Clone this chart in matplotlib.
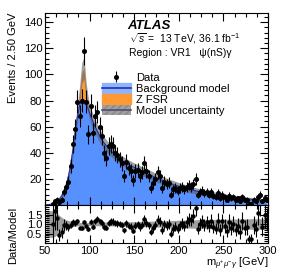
import numpy as np
import matplotlib.pyplot as plt
from matplotlib.ticker import MultipleLocator
from matplotlib.lines import Line2D
from matplotlib.patches import Patch

plt.rcParams['font.family'] = ['Liberation Sans', 'DejaVu Sans']
plt.rcParams['mathtext.fontset'] = 'custom'
plt.rcParams['mathtext.rm'] = 'Liberation Sans'
plt.rcParams['mathtext.it'] = 'Liberation Sans:italic'
plt.rcParams['font.size'] = 8

# bins: 2.5 GeV from 50 to 300
edges = np.arange(50, 300.01, 2.5)
centers = edges[:-1] + 1.25

# background model (events / bin)
bkg = [0.2, 0.3, 0.5, 1.0, 1.8, 3.0, 4.5, 7.0, 10.5, 15.0,
       22.0, 31.0, 42.0, 55.0, 67.0, 76.0, 81.0, 80.0, 77.0, 73.0,
       68.0, 64.0, 60.0, 56.5, 53.0, 50.0, 47.5, 45.5, 43.5, 41.5,
       40.0, 38.5, 37.0, 35.5, 34.2, 33.0, 32.0, 31.0, 30.0, 29.2,
       28.4, 27.6, 26.8, 26.0, 25.2, 24.4, 23.6, 22.8, 22.0, 21.2,
       20.4, 19.7, 19.0, 18.3, 17.6, 17.0, 16.4, 15.8, 15.2, 14.6,
       14.1, 13.6, 13.1, 12.6, 12.1, 11.7, 11.3, 10.9, 10.5, 10.1,
       9.7, 9.4, 9.1, 8.8, 8.5, 8.2, 7.9, 7.6, 7.3, 7.0,
       6.8, 6.6, 6.4, 6.2, 6.0, 5.8, 5.6, 5.4, 5.2, 5.0,
       4.8, 4.6, 4.4, 4.2, 4.0, 3.8, 3.6, 3.5, 3.4, 3.3]

# Z FSR component
zfsr = [0] * 13 + [0.5, 2.0, 8.0, 20.0, 25.0, 9.0, 2.0] + [0] * 80

# relative model uncertainty
rel_unc = [0.70, 0.70, 0.70, 0.70, 0.65, 0.55, 0.45, 0.35, 0.28, 0.22,
           0.18, 0.15, 0.13, 0.12, 0.10, 0.08, 0.08, 0.08, 0.08, 0.08,
           0.09, 0.09, 0.09, 0.09, 0.10, 0.10, 0.10, 0.10, 0.10, 0.10,
           0.10, 0.10, 0.10, 0.10, 0.10, 0.11, 0.11, 0.11, 0.12, 0.12,
           0.12, 0.13, 0.13, 0.13, 0.14, 0.14, 0.14, 0.15, 0.15, 0.15,
           0.16, 0.16, 0.17, 0.17, 0.17, 0.18, 0.18, 0.19, 0.19, 0.20,
           0.20, 0.20, 0.21, 0.21, 0.21, 0.22, 0.22, 0.22, 0.23, 0.23,
           0.23, 0.23, 0.24, 0.24, 0.24, 0.24, 0.25, 0.25, 0.25, 0.25,
           0.25, 0.25, 0.26, 0.26, 0.26, 0.26, 0.26, 0.27, 0.27, 0.27,
           0.27, 0.27, 0.28, 0.28, 0.28, 0.28, 0.28, 0.28, 0.28, 0.28]

# observed data
data = [0, 0, 0, 1, 3, 4, 2, 4, 10, 14,
        18, 30, 47, 58, 79, 68, 80, 118, 79, 54,
        76, 55, 68, 71, 60, 53, 40, 36, 45, 47,
        45, 40, 38, 35, 32, 22, 33, 28, 26, 19,
        26, 27, 22, 25, 32, 26, 22, 13, 17, 20,
        25, 22, 13, 18, 16, 17, 8, 12, 13, 11,
        13, 14, 12, 14, 15, 14, 16, 20, 8, 10,
        11, 9, 10, 8, 10, 7, 6, 9, 5, 8,
        6, 4, 7, 5, 6, 4, 5, 3, 6, 4,
        4, 1, 1, 4, 3, 6, 8, 3, 5, 4]

bkg = np.array(bkg)
zfsr = np.array(zfsr)
rel_unc = np.array(rel_unc)
data = np.array(data, dtype=float)
total = bkg + zfsr
err = np.sqrt(data)
has = data > 0

fig = plt.figure(figsize=(2.83, 2.74), dpi=100)
ax = fig.add_axes([0.159, 0.2518, 0.788, 0.7008])
rax = fig.add_axes([0.159, 0.1131, 0.788, 0.1387], sharex=ax)

blue = '#5790ff'
orange = '#ff9933'
line_blue = '#1f2fb0'

# main panel
ax.fill_between(centers, 0, bkg, color=blue, lw=0)
ax.fill_between(centers, bkg, total, color=orange, lw=0)
ax.plot(centers, bkg, color=line_blue, lw=0.8)
ax.fill_between(centers, total * (1 - rel_unc), total * (1 + rel_unc),
                color='#606060', alpha=0.6, lw=0)
data_h = ax.errorbar(centers[has], data[has], yerr=err[has], fmt='o', color='k',
                     ms=2.6, elinewidth=0.8, capsize=0)

ax.set_xlim(50, 300)
ax.set_ylim(0.01, 147)
ax.set_ylabel('Events / 2.50 GeV', loc='top')
ax.yaxis.set_minor_locator(MultipleLocator(4))
ax.set_yticks([20, 40, 60, 80, 100, 120, 140])
ax.xaxis.set_major_locator(MultipleLocator(50))
ax.xaxis.set_minor_locator(MultipleLocator(12.5))
ax.tick_params(labelbottom=False)

for a in (ax, rax):
    a.tick_params(which='both', direction='in', top=True, right=True, width=0.8)
    a.tick_params(which='major', length=6, pad=2)
    a.tick_params(which='minor', length=3)
    for s in a.spines.values():
        s.set_linewidth(0.8)

ax.text(0.37, 0.915, 'ATLAS', transform=ax.transAxes, fontsize=9.5,
        fontweight='bold', fontstyle='italic')
ax.text(0.375, 0.845, r'$\sqrt{s}$ =  13 TeV, 36.1 fb$^{-1}$', transform=ax.transAxes,
        fontsize=7.5)
ax.text(0.375, 0.775, 'Region : VR1   ψ(nS)γ', transform=ax.transAxes, fontsize=7.5)

handles = [
    data_h,
    (Patch(color='#8fb4ff'), Line2D([], [], color=line_blue, lw=1.2)),
    Patch(color=orange),
    (Patch(color='#a0a0a0', hatch='/////', ec='#888888', lw=0),
     Line2D([], [], color='#505070', lw=1.2)),
]
labels = ['Data', 'Background model', 'Z FSR', 'Model uncertainty']
ax.legend(handles, labels, loc='upper left', bbox_to_anchor=(0.23, 0.72),
          frameon=False, fontsize=8, handlelength=2.6, handleheight=0.9,
          labelspacing=0.05, handletextpad=0.5, borderpad=0)

# ratio panel
ratio = np.where(total > 0, data / total, 0)
rerr = np.where(total > 0, err / total, 0)
rax.fill_between(centers, 1 - rel_unc, 1 + rel_unc, color='#9e9e9e', lw=0)
rax.errorbar(centers[has], ratio[has], yerr=rerr[has], fmt='o', color='k',
             ms=2.2, elinewidth=0.8, capsize=0)
rax.set_ylim(0, 2)
rax.set_yticks([0.5, 1.0, 1.5])
rax.set_yticklabels(['0.5', '1.0', '1.5'])
rax.yaxis.set_minor_locator(MultipleLocator(0.1))
rax.set_xlim(50, 300)
rax.set_xticks([50, 100, 150, 200, 250, 300])

fig.text(0.045, 0.14, 'Data/Model', rotation=90, ha='center', va='center', fontsize=8)
rax.set_xlabel(r'm$_{\mu^{+}\mu^{-}\gamma}$ [GeV]', loc='right', labelpad=0)

fig.savefig('out.png', dpi=100)
